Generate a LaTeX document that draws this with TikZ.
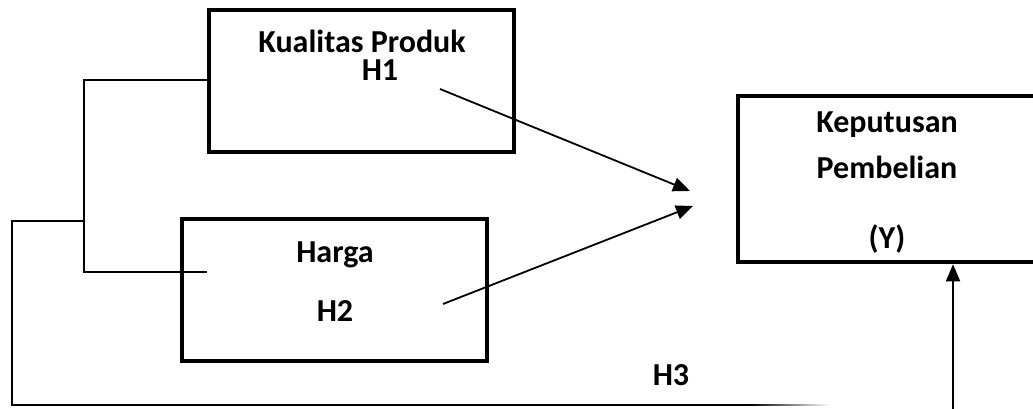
\documentclass[tikz,border=0pt]{standalone}
\usepackage{fontspec}
\setmainfont{Carlito}
\usetikzlibrary{arrows.meta}
\begin{document}
\begin{tikzpicture}[x=1pt,y=-1pt,
  varbox/.style={draw, line width=4.5pt, minimum width=305pt, minimum height=142pt, inner sep=0pt},
  lbl/.style={font=\fontsize{32}{36}\selectfont\bfseries, anchor=base, inner sep=0pt},
  link/.style={line width=1.5pt},
  effect/.style={line width=1.8pt, -{Triangle[length=17pt,width=14pt]}}]
\clip (0,0) rectangle (1033,409);
\fill[white] (0,0) rectangle (1033,409);

% variable boxes
\node[varbox] (kp) at (361.5,81) {};
\node[varbox] (hg) at (334.5,290) {};
\node[varbox, minimum width=362pt, minimum height=166pt] (kep) at (919,179) {};

% labels
\node[lbl] (kpt) at (362,53) {Kualitas Produk};
\node[lbl] (h1) at (380,81) {H1};
\node[lbl] (hgt) at (335,262) {Harga};
\node[lbl] (h2) at (335,321) {H2};
\node[lbl] (kp1) at (887,133) {Keputusan};
\node[lbl] (kp2) at (887,178) {Pembelian};
\node[lbl] (yv) at (887,248) {(Y)};
\node[lbl] (h3) at (671,385) {H3};

% connector points
\coordinate (a1s) at (440,89);  \coordinate (a1e) at (690,191);
\coordinate (a2s) at (443,304); \coordinate (a2e) at (693,206);
\coordinate (j1) at (84,80);    \coordinate (j2) at (84,272);
\coordinate (hgin) at (207,272);
\coordinate (j3) at (84,221);   \coordinate (c1) at (12,221);
\coordinate (c2) at (12,405);   \coordinate (f1) at (750,405);
\coordinate (up) at (953,409);

% bracket joining the two independent variables
\draw[link] (kp.west |- j1) -- (j1) -- (j2) -- (hgin);
\draw[link] (j3) -- (c1) -- (c2) -- (f1);
\shade[left color=black, right color=white] (750,404.25) rectangle (830,405.75);

% effects on the dependent variable
\draw[effect] (a1s) -- (a1e);
\draw[effect] (a2s) -- (a2e);
\draw[effect] (up) -- (kep.south -| up);
\end{tikzpicture}
\end{document}
